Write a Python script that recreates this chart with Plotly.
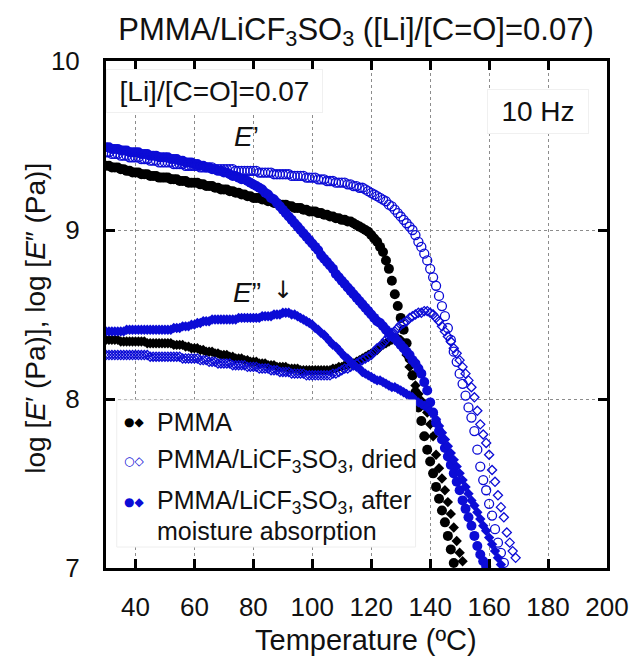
import plotly.graph_objects as go

# ---------------- data ----------------
T_START = 30  # first temperature, 1 degC sampling

pmma_Ep = [9.38, 9.38, 9.37, 9.37, 9.37, 9.36, 9.36, 9.35, 9.35, 9.34,
           9.34, 9.34, 9.33, 9.33, 9.33, 9.32, 9.32, 9.32, 9.31, 9.31,
           9.31, 9.31, 9.30, 9.30, 9.30, 9.29, 9.29, 9.29, 9.28, 9.28,
           9.28, 9.28, 9.27, 9.27, 9.26, 9.26, 9.26, 9.25, 9.25, 9.24,
           9.24, 9.24, 9.23, 9.23, 9.22, 9.22, 9.21, 9.21, 9.20, 9.20,
           9.19, 9.19, 9.19, 9.18, 9.18, 9.17, 9.17, 9.16, 9.16, 9.15,
           9.15, 9.15, 9.14, 9.14, 9.13, 9.13, 9.13, 9.12, 9.12, 9.11,
           9.11, 9.11, 9.10, 9.10, 9.09, 9.09, 9.08, 9.08, 9.07, 9.07,
           9.06, 9.06, 9.05, 9.05, 9.04, 9.03, 9.02, 9.01, 9.00, 8.99,
           8.97, 8.95, 8.93, 8.90, 8.87, 8.82, 8.77, 8.70, 8.62, 8.55,
           8.48, 8.41, 8.33, 8.24, 8.14, 8.04, 7.95, 7.87, 7.78, 7.70,
           7.63, 7.56, 7.48, 7.41, 7.34, 7.27, 7.19, 7.11, 7.03]

pmma_Epp = [8.35, 8.35, 8.35, 8.35, 8.35, 8.34, 8.34, 8.34, 8.34, 8.34,
            8.34, 8.34, 8.34, 8.34, 8.33, 8.33, 8.33, 8.33, 8.33, 8.33,
            8.33, 8.33, 8.33, 8.32, 8.32, 8.32, 8.32, 8.31, 8.31, 8.30,
            8.30, 8.30, 8.29, 8.29, 8.28, 8.28, 8.28, 8.27, 8.27, 8.26,
            8.26, 8.26, 8.25, 8.25, 8.24, 8.24, 8.24, 8.23, 8.23, 8.22,
            8.22, 8.22, 8.21, 8.21, 8.21, 8.20, 8.20, 8.20, 8.19, 8.19,
            8.19, 8.19, 8.18, 8.18, 8.18, 8.18, 8.17, 8.17, 8.17, 8.17,
            8.17, 8.17, 8.17, 8.17, 8.17, 8.17, 8.17, 8.18, 8.18, 8.19,
            8.19, 8.20, 8.20, 8.21, 8.21, 8.22, 8.23, 8.24, 8.25, 8.26,
            8.27, 8.28, 8.29, 8.31, 8.32, 8.33, 8.34, 8.35, 8.36, 8.36,
            8.35, 8.32, 8.26, 8.19, 8.14, 8.08, 8.03, 7.99, 7.96, 7.92,
            7.85, 7.78, 7.67, 7.59, 7.53, 7.46, 7.39, 7.32, 7.24, 7.16, 7.09, 7.04]

dried_Ep = [9.46, 9.46, 9.45, 9.45, 9.45, 9.44, 9.44, 9.44, 9.43, 9.43,
            9.43, 9.43, 9.42, 9.42, 9.42, 9.41, 9.41, 9.41, 9.40, 9.40,
            9.40, 9.40, 9.40, 9.39, 9.39, 9.39, 9.39, 9.38, 9.38, 9.38,
            9.38, 9.38, 9.37, 9.37, 9.37, 9.37, 9.37, 9.36, 9.36, 9.36,
            9.36, 9.36, 9.36, 9.36, 9.35, 9.35, 9.35, 9.35, 9.35, 9.35,
            9.35, 9.35, 9.34, 9.34, 9.34, 9.34, 9.34, 9.33, 9.33, 9.33,
            9.33, 9.33, 9.33, 9.32, 9.32, 9.32, 9.32, 9.32, 9.31, 9.31,
            9.31, 9.31, 9.30, 9.30, 9.30, 9.29, 9.29, 9.29, 9.28, 9.28,
            9.28, 9.28, 9.27, 9.27, 9.26, 9.26, 9.25, 9.25, 9.24, 9.23,
            9.22, 9.21, 9.20, 9.19, 9.18, 9.17, 9.15, 9.14, 9.12, 9.10,
            9.08, 9.06, 9.04, 9.02, 9.00, 8.97, 8.93, 8.90, 8.86, 8.82,
            8.77, 8.72, 8.67, 8.61, 8.55, 8.49, 8.42, 8.35, 8.28, 8.22,
            8.15, 8.09, 8.02, 7.95, 7.89, 7.81, 7.70, 7.60, 7.52, 7.46,
            7.38, 7.31, 7.23, 7.15, 7.09, 7.03]

dried_Epp = [8.26, 8.26, 8.26, 8.26, 8.26, 8.26, 8.26, 8.26, 8.26, 8.26,
             8.26, 8.26, 8.26, 8.26, 8.26, 8.25, 8.25, 8.25, 8.25, 8.25,
             8.25, 8.25, 8.25, 8.25, 8.25, 8.25, 8.24, 8.24, 8.24, 8.24,
             8.24, 8.24, 8.23, 8.23, 8.23, 8.22, 8.22, 8.22, 8.21, 8.21,
             8.21, 8.21, 8.21, 8.20, 8.20, 8.20, 8.20, 8.20, 8.19, 8.19,
             8.19, 8.19, 8.18, 8.18, 8.18, 8.18, 8.17, 8.17, 8.17, 8.16,
             8.16, 8.16, 8.16, 8.15, 8.15, 8.15, 8.15, 8.15, 8.14, 8.14,
             8.14, 8.14, 8.14, 8.14, 8.14, 8.14, 8.14, 8.15, 8.15, 8.16,
             8.17, 8.18, 8.18, 8.19, 8.20, 8.21, 8.22, 8.23, 8.24, 8.25,
             8.26, 8.28, 8.30, 8.31, 8.33, 8.35, 8.37, 8.39, 8.40, 8.42,
             8.44, 8.45, 8.46, 8.48, 8.49, 8.50, 8.51, 8.51, 8.52, 8.52,
             8.51, 8.50, 8.48, 8.46, 8.43, 8.40, 8.37, 8.34, 8.30, 8.27,
             8.23, 8.19, 8.15, 8.11, 8.07, 8.01, 7.93, 7.85, 7.79, 7.74,
             7.67, 7.58, 7.51, 7.43, 7.36, 7.30, 7.21, 7.15, 7.10, 7.06]

moist_Ep = [9.49, 9.49, 9.48, 9.48, 9.48, 9.47, 9.47, 9.47, 9.46, 9.46,
            9.46, 9.46, 9.45, 9.45, 9.45, 9.44, 9.44, 9.44, 9.43, 9.43,
            9.43, 9.43, 9.42, 9.42, 9.42, 9.41, 9.41, 9.40, 9.40, 9.40,
            9.39, 9.39, 9.38, 9.38, 9.37, 9.37, 9.36, 9.36, 9.35, 9.35,
            9.34, 9.34, 9.33, 9.32, 9.32, 9.31, 9.30, 9.30, 9.29, 9.28,
            9.27, 9.26, 9.25, 9.24, 9.22, 9.21, 9.19, 9.18, 9.16, 9.14,
            9.12, 9.10, 9.08, 9.06, 9.04, 9.02, 9.00, 8.98, 8.96, 8.94,
            8.92, 8.90, 8.88, 8.85, 8.83, 8.81, 8.79, 8.77, 8.74, 8.72,
            8.70, 8.68, 8.66, 8.64, 8.62, 8.60, 8.58, 8.56, 8.54, 8.52,
            8.50, 8.48, 8.46, 8.45, 8.43, 8.41, 8.39, 8.37, 8.36, 8.34,
            8.32, 8.30, 8.28, 8.26, 8.23, 8.21, 8.18, 8.15, 8.10, 8.05,
            7.98, 7.92, 7.86, 7.81, 7.76, 7.71, 7.66, 7.61, 7.56, 7.51,
            7.46, 7.40, 7.35, 7.30, 7.25, 7.19, 7.13, 7.08, 7.04, 7.01]

moist_Epp = [8.40, 8.40, 8.40, 8.40, 8.40, 8.40, 8.40, 8.41, 8.41, 8.41,
             8.41, 8.41, 8.41, 8.41, 8.41, 8.41, 8.41, 8.41, 8.41, 8.41,
             8.41, 8.41, 8.41, 8.42, 8.42, 8.42, 8.43, 8.43, 8.43, 8.44,
             8.44, 8.45, 8.45, 8.46, 8.46, 8.46, 8.47, 8.47, 8.47, 8.47,
             8.47, 8.47, 8.47, 8.47, 8.47, 8.48, 8.48, 8.48, 8.48, 8.48,
             8.48, 8.48, 8.48, 8.49, 8.49, 8.49, 8.49, 8.50, 8.50, 8.50,
             8.51, 8.51, 8.51, 8.50, 8.50, 8.49, 8.48, 8.47, 8.46, 8.45,
             8.44, 8.42, 8.41, 8.39, 8.38, 8.36, 8.34, 8.32, 8.31, 8.29,
             8.27, 8.25, 8.24, 8.22, 8.20, 8.19, 8.18, 8.16, 8.15, 8.14,
             8.13, 8.12, 8.11, 8.11, 8.10, 8.09, 8.08, 8.07, 8.07, 8.06,
             8.05, 8.04, 8.03, 8.02, 8.01, 7.99, 7.98, 7.97, 7.96, 7.95,
             7.93, 7.91, 7.88, 7.84, 7.80, 7.76, 7.72, 7.68, 7.64, 7.60,
             7.56, 7.52, 7.48, 7.44, 7.40, 7.37, 7.33, 7.29, 7.25, 7.22,
             7.18, 7.14, 7.10, 7.06, 7.02]

x_ticks = [40, 60, 80, 100, 120, 140, 160, 180, 200]
y_ticks = [7, 8, 9, 10]

# ---------------- styling ----------------
BLACK = "#000000"
BLUE = "#0c0cd6"
FONT = "Liberation Sans, Arial, sans-serif"
TXT = "#111111"

W, H = 641, 659
L, R, TOP, B = 106, 22, 61, 91
PW, PH = W - L - R, H - TOP - B


def px(xp):
    return (xp - L) / PW


def py(yp):
    return (H - B - yp) / PH


def temps(vals):
    return list(range(T_START, T_START + len(vals)))


fig = go.Figure()

series = [
    (pmma_Ep, "circle", BLACK, None, 10),
    (pmma_Epp, "diamond", BLACK, None, 8),
    (moist_Ep, "circle", BLUE, None, 10),
    (moist_Epp, "diamond", BLUE, None, 8),
    (dried_Ep, "circle-open", BLUE, 1.3, 9),
    (dried_Epp, "diamond-open", BLUE, 1.3, 7),
]
for vals, sym, col, lw, size in series:
    mk = dict(symbol=sym, size=size, color=col)
    if lw is not None:
        mk["line"] = dict(color=col, width=lw)
    else:
        mk["line"] = dict(width=0)
    fig.add_trace(go.Scatter(x=temps(vals), y=vals, mode="markers",
                             marker=mk, showlegend=False, hoverinfo="skip"))

axis_common = dict(
    showline=True, linecolor="black", linewidth=3, mirror="ticks",
    ticks="inside", ticklen=9, tickwidth=2.5, tickcolor="black",
    showgrid=True, gridcolor="#8c8c8c", gridwidth=1, griddash="dot",
    zeroline=False,
    tickfont=dict(family=FONT, size=26, color=TXT),
)

fig.update_xaxes(range=[30, 200], tickvals=x_ticks,
                 ticklabelstandoff=14, **axis_common)
fig.update_yaxes(range=[7, 10], tickvals=y_ticks,
                 ticklabelstandoff=18, **axis_common)

annotations = []
# axis titles
annotations.append(dict(text="Temperature (ºC)", x=px(372), y=py(640),
                        xref="paper", yref="paper", showarrow=False,
                        xanchor="center", yanchor="middle",
                        font=dict(family=FONT, size=29, color=TXT)))
annotations.append(dict(text="log [<i>E</i>′ (Pa)], log [<i>E</i>″ (Pa)]",
                        x=px(34), y=py(318), xref="paper", yref="paper",
                        showarrow=False, textangle=-90,
                        xanchor="center", yanchor="middle",
                        font=dict(family=FONT, size=28, color=TXT)))
# in-plot labels
annotations.append(dict(text="[Li]/[C=O]=0.07", x=px(217.5), y=py(91),
                        xref="paper", yref="paper", showarrow=False,
                        xanchor="center", yanchor="middle",
                        width=205, height=32, borderpad=5,
                        bgcolor="white", bordercolor="#f0f0f0", borderwidth=1,
                        font=dict(family=FONT, size=28, color=TXT)))
annotations.append(dict(text="10 Hz", x=px(548), y=py(111.5),
                        xref="paper", yref="paper", showarrow=False,
                        xanchor="center", yanchor="middle",
                        width=90, height=33, borderpad=5,
                        bgcolor="white", bordercolor="#f0f0f0", borderwidth=1,
                        font=dict(family=FONT, size=28, color=TXT)))
annotations.append(dict(text="<i>E</i>’", x=px(250), y=py(136),
                        xref="paper", yref="paper", showarrow=False,
                        xanchor="center", yanchor="middle",
                        font=dict(family=FONT, size=28, color=TXT)))
annotations.append(dict(text="<i>E</i>”", x=px(250), y=py(292),
                        xref="paper", yref="paper", showarrow=False,
                        xanchor="center", yanchor="middle",
                        font=dict(family=FONT, size=28, color=TXT)))
annotations.append(dict(text="↓", x=px(287), y=py(290),
                        xref="paper", yref="paper", showarrow=False,
                        xanchor="center", yanchor="middle",
                        font=dict(family="DejaVu Sans", size=24, color=TXT)))

# custom legend
legend_rows = [
    ("●◆", BLACK, "PMMA", 422),
    ("○◇", BLUE, "PMMA/LiCF<sub>3</sub>SO<sub>3</sub>, dried", 461),
    ("●◆", BLUE, "PMMA/LiCF<sub>3</sub>SO<sub>3</sub>, after", 502),
    ("", BLUE, "moisture absorption", 531),
]
for sym, col, label, yy in legend_rows:
    if sym:
        annotations.append(dict(text=sym, x=px(135), y=py(yy),
                                xref="paper", yref="paper", showarrow=False,
                                xanchor="center", yanchor="middle",
                                font=dict(family="DejaVu Sans", size=12, color=col)))
    annotations.append(dict(text=label, x=px(156), y=py(yy),
                            xref="paper", yref="paper", showarrow=False,
                            xanchor="left", yanchor="middle",
                            font=dict(family=FONT, size=25, color=TXT)))

shapes = [dict(type="rect", xref="paper", yref="paper",
               x0=px(117), x1=px(423), y0=py(547), y1=py(400),
               fillcolor="white", line=dict(color="#eeeeee", width=1),
               layer="above")]

fig.update_layout(
    width=W, height=H,
    margin=dict(l=L, r=R, t=TOP, b=B),
    paper_bgcolor="white", plot_bgcolor="white",
    title=dict(text="PMMA/LiCF<sub>3</sub>SO<sub>3</sub> ([Li]/[C=O]=0.07)",
               x=px(362), xref="paper", xanchor="center",
               y=1 - 29 / H, yref="container", yanchor="middle",
               font=dict(family=FONT, size=31, color=TXT)),
    annotations=annotations,
    shapes=shapes,
    showlegend=False,
)

fig.write_html("out.html")
